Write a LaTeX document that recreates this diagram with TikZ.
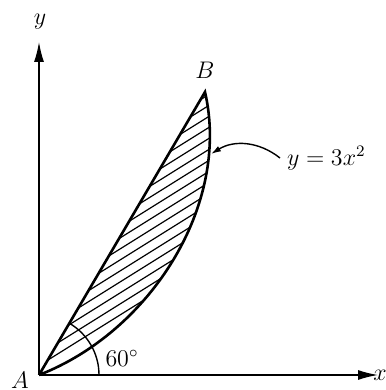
\documentclass[tikz,border=0pt]{standalone}
\usetikzlibrary{arrows.meta,positioning}
\begin{document}
\begin{tikzpicture}[x=0.5pt,y=0.5pt,
  font=\fontsize{11.5}{14}\selectfont,
  axis/.style={line width=0.7pt},
  bound/.style={line width=1.3pt},
  hatch/.style={line width=0.6pt},
  >={Latex[length=10pt,width=5pt]}]
\useasboundingbox (0,0) rectangle (385,390);
\coordinate (A) at (39,15);
\coordinate (B) at (205,298);
\coordinate (P) at (211,236);
\coordinate (ytop) at (39,348);
\coordinate (xend) at (378,15);
% hatched region
\begin{scope}
  \clip (A) -- (B) .. controls (231,185) and (150,58) .. (A);
  \foreach \c in {0,11,...,176}
    \draw[hatch] (0,\c) -- (300,187.5+\c);
\end{scope}
\draw[->,axis] (A) -- (ytop);
\draw[->,axis] (A) -- (xend);
\draw[bound] (A) -- (B) .. controls (231,185) and (150,58) .. (A);
\draw[axis] ([shift={(0:30pt)}]A) arc[start angle=0, end angle=60, radius=30pt];
\node (ylbl) at (40,368) {$y$};
\node (xlbl) at (380,15) {$x$};
\node (Albl) at (20,10) {$A$};
\node (Blbl) at (205,320) {$B$};
\node (ang) at (122,32) {$60^{\circ}$};
\node[anchor=west] (eq) at (280,232) {$y=3x^2$};
\draw[-{Latex[length=5pt,width=3pt]},axis] (eq.west) to[bend right=35] (P);
\end{tikzpicture}
\end{document}
